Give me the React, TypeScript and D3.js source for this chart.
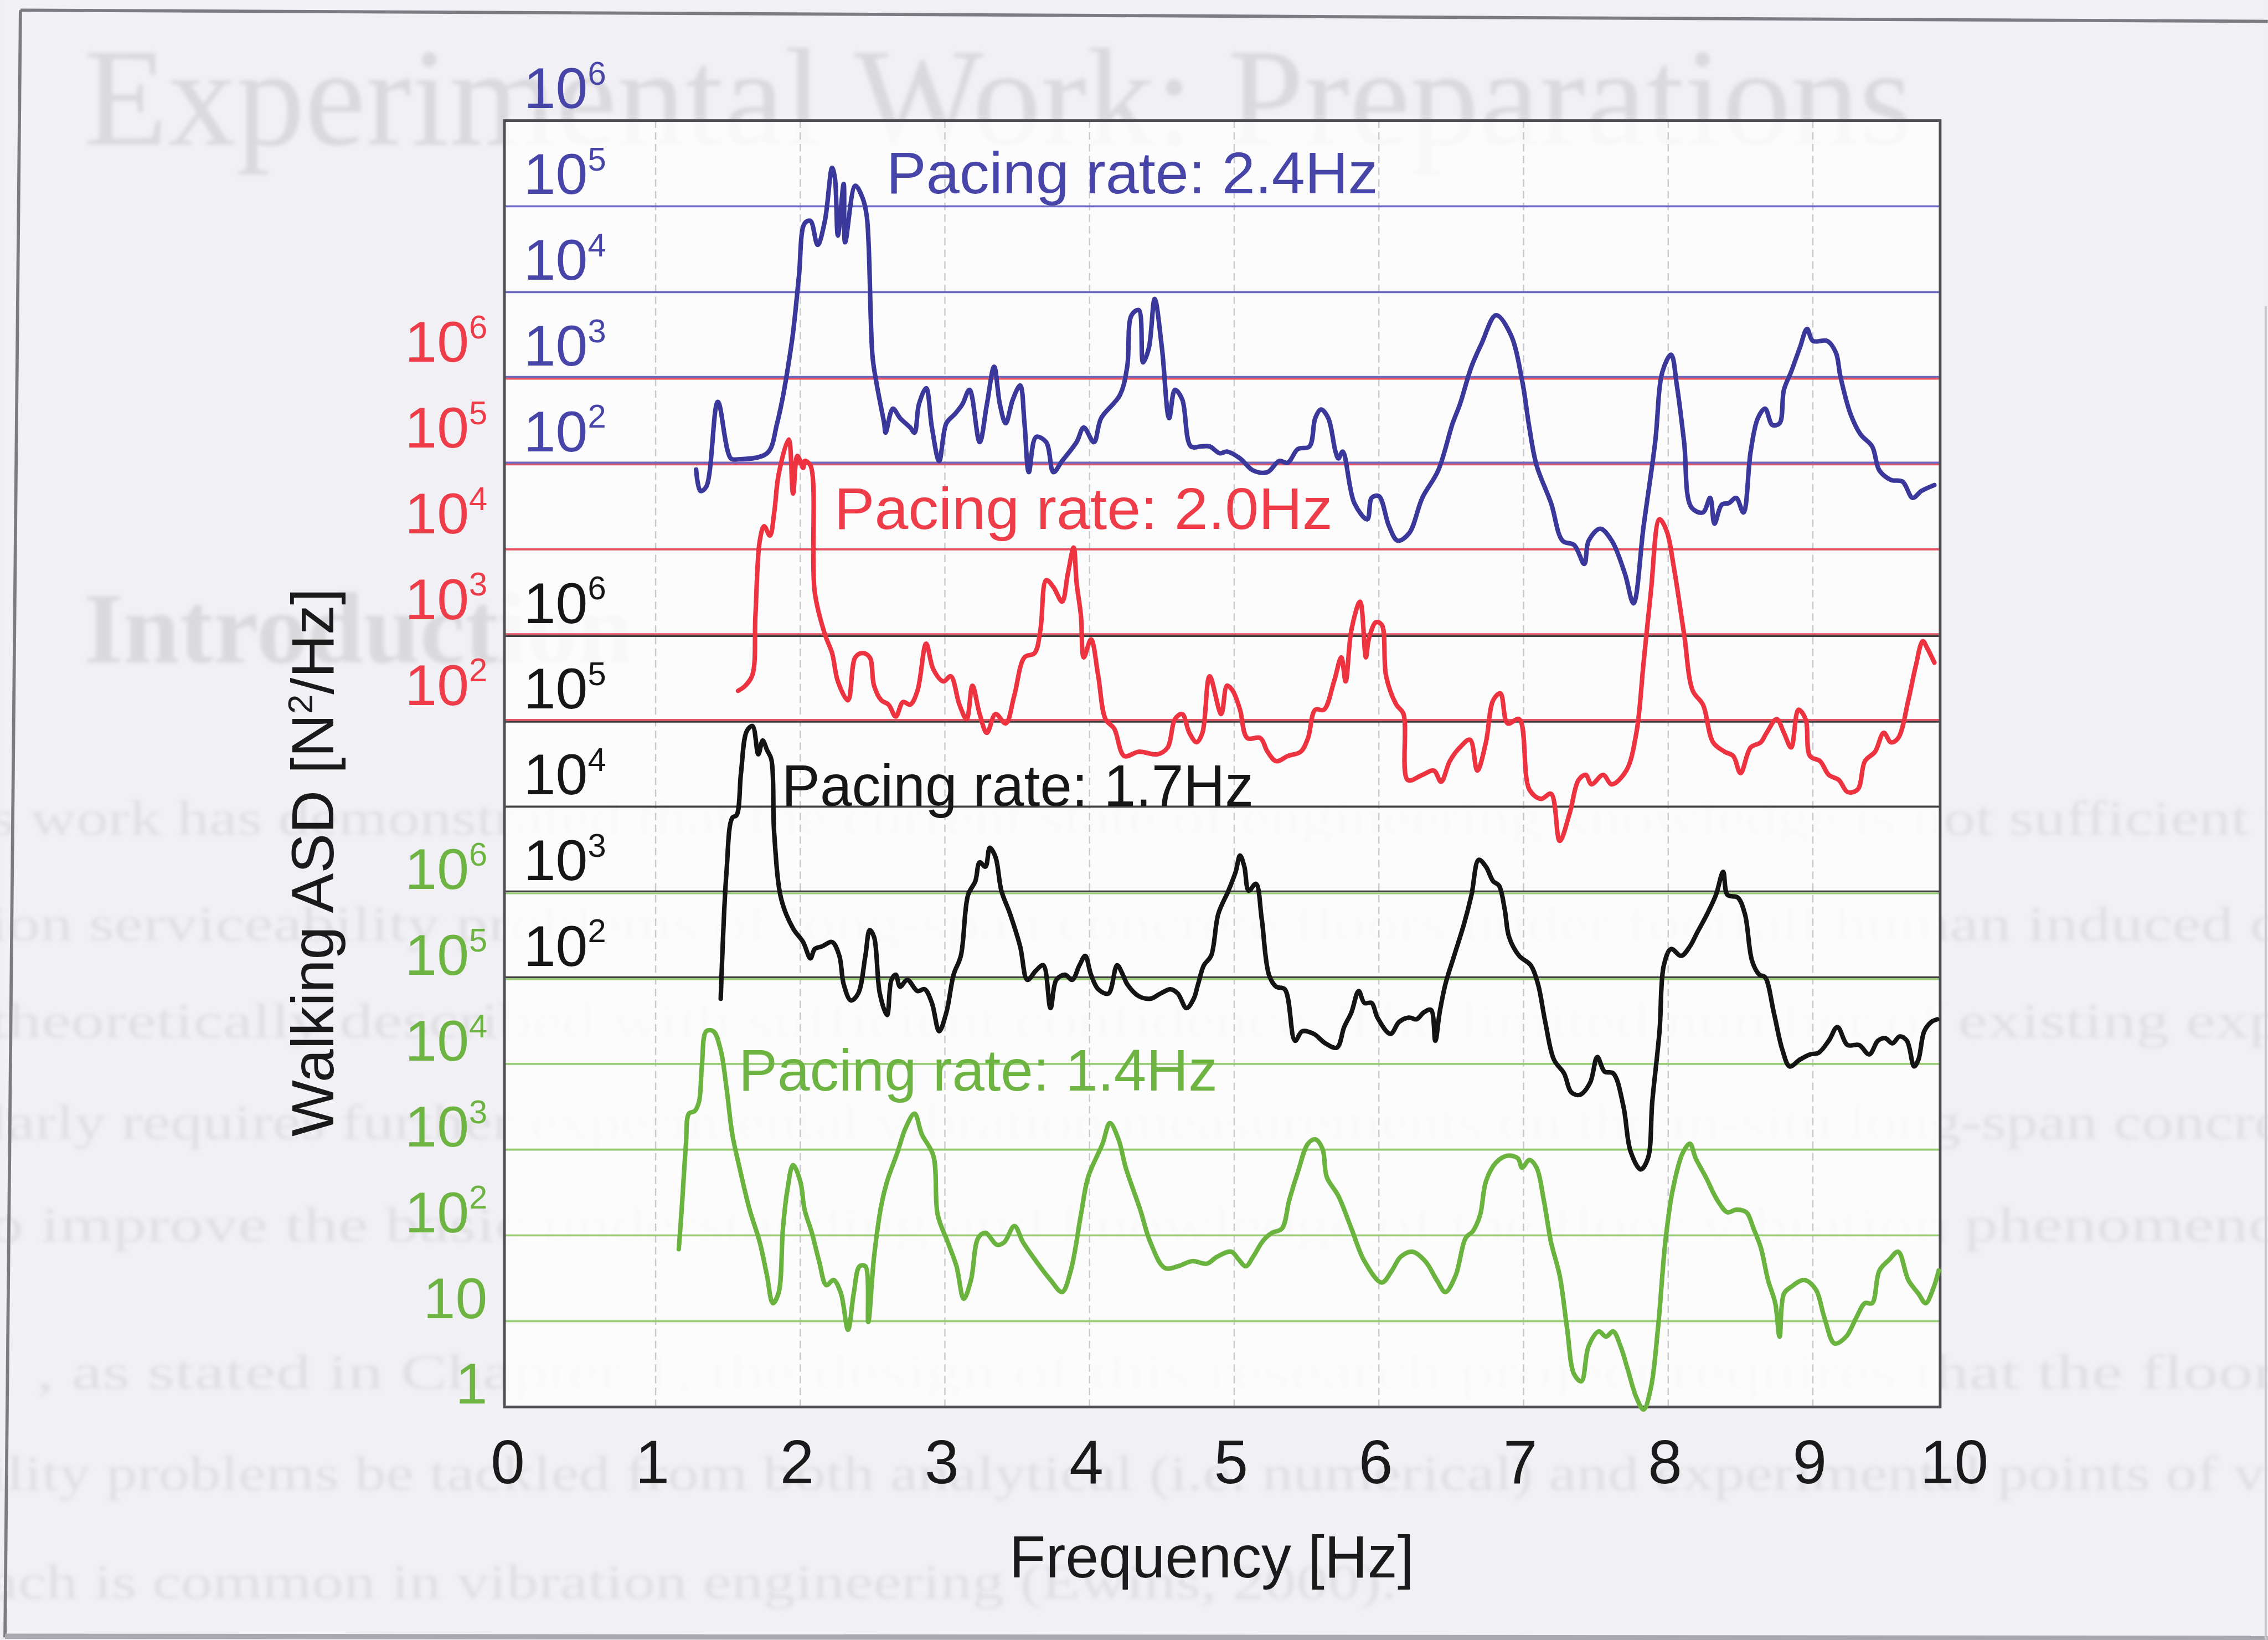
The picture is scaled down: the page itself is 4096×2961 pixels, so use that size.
import * as d3 from "d3";
import { useEffect } from "react";

// reference canvas, drawn through a viewBox so it scales to the window
const W = 4253;
const H = 3075;

// frequency ticks [Hz]
const freqTicks = [0, 1, 2, 3, 4, 5, 6, 7, 8, 9, 10];
const freqGrid = [1, 2, 3, 4, 5, 6, 7, 8, 9];

// exponents shown on each stacked log axis
const blueDecades = [2, 3, 4, 5, 6];
const redDecades = [2, 3, 4, 5, 6];
const blackDecades = [2, 3, 4, 5, 6];
const greenDecades = [0, 1, 2, 3, 4, 5, 6];

// [frequency Hz, log10 ASD]
const blueAsd: [number, number][] = [
  [1.28, 1.93], [1.31, 1.68], [1.35, 1.73], [1.43, 2.72], [1.52, 2.06], [1.57, 2.05], [1.77, 2.12],
  [1.84, 2.47], [1.94, 3.4], [1.99, 4.17], [2.03, 4.8], [2.07, 4.83], [2.12, 4.55], [2.17, 4.83],
  [2.22, 5.45], [2.24, 5.32], [2.26, 4.66], [2.3, 5.26], [2.31, 4.58], [2.38, 5.24], [2.43, 5.1],
  [2.46, 4.88], [2.5, 3.24], [2.53, 2.91], [2.58, 2.47], [2.59, 2.36], [2.64, 2.64], [2.69, 2.53],
  [2.76, 2.42], [2.79, 2.36], [2.82, 2.69], [2.87, 2.88], [2.91, 2.42], [2.96, 2.03], [3.01, 2.47],
  [3.07, 2.58], [3.12, 2.69], [3.17, 2.86], [3.24, 2.25], [3.29, 2.69], [3.34, 3.13], [3.38, 2.69],
  [3.42, 2.47], [3.47, 2.75], [3.52, 2.91], [3.55, 2.47], [3.58, 1.9], [3.63, 2.31], [3.7, 2.25],
  [3.75, 1.9], [3.81, 2.03], [3.91, 2.25], [3.96, 2.42], [4.03, 2.25], [4.08, 2.53], [4.21, 2.8],
  [4.26, 3.13], [4.29, 3.73], [4.34, 3.79], [4.37, 3.18], [4.41, 3.35], [4.45, 3.92], [4.5, 3.35],
  [4.55, 2.53], [4.59, 2.86], [4.64, 2.75], [4.7, 2.2], [4.77, 2.2], [4.83, 2.2], [4.9, 2.12],
  [4.95, 2.14], [5.04, 2.06], [5.13, 1.92], [5.23, 1.9], [5.31, 2.03], [5.37, 2.01], [5.44, 2.17],
  [5.52, 2.2], [5.56, 2.53], [5.6, 2.63], [5.65, 2.53], [5.7, 2.14], [5.72, 2.06], [5.75, 2.14],
  [5.83, 1.54], [5.92, 1.35], [5.95, 1.6], [6.0, 1.62], [6.07, 1.27], [6.13, 1.1], [6.21, 1.19],
  [6.3, 1.6], [6.41, 1.92], [6.51, 2.47], [6.56, 2.69], [6.64, 3.13], [6.71, 3.4], [6.81, 3.73],
  [6.91, 3.51], [6.99, 2.97], [7.04, 2.42], [7.09, 1.98], [7.19, 1.54], [7.27, 1.1], [7.35, 1.05],
  [7.42, 0.83], [7.45, 1.1], [7.53, 1.24], [7.61, 1.1], [7.7, 0.72], [7.76, 0.37], [7.83, 1.27],
  [7.91, 2.25], [7.96, 3.07], [8.02, 3.27], [8.06, 2.91], [8.11, 2.25], [8.16, 1.49], [8.24, 1.43],
  [8.29, 1.6], [8.32, 1.3], [8.37, 1.52], [8.42, 1.54], [8.47, 1.6], [8.52, 1.43], [8.57, 2.14],
  [8.62, 2.53], [8.67, 2.64], [8.72, 2.45], [8.77, 2.47], [8.8, 2.86], [8.85, 3.07], [8.91, 3.35],
  [8.96, 3.57], [9.0, 3.43], [9.1, 3.43], [9.16, 3.29], [9.19, 3.02], [9.26, 2.58], [9.33, 2.34],
  [9.41, 2.2], [9.46, 1.92], [9.54, 1.81], [9.62, 1.79], [9.69, 1.6], [9.75, 1.68], [9.84, 1.75],
];

const redAsd: [number, number][] = [
  [1.57, 2.35], [1.62, 2.41], [1.67, 2.54], [1.69, 3.23], [1.72, 4.1], [1.75, 4.27], [1.79, 4.16],
  [1.82, 4.43], [1.85, 4.87], [1.92, 5.28], [1.95, 4.65], [1.98, 5.09], [2.02, 4.95], [2.03, 5.03],
  [2.07, 4.98], [2.1, 3.5], [2.17, 3.01], [2.22, 2.79], [2.26, 2.46], [2.33, 2.24], [2.38, 2.74],
  [2.43, 2.79], [2.48, 2.74], [2.51, 2.41], [2.56, 2.24], [2.61, 2.19], [2.66, 2.05], [2.71, 2.22],
  [2.76, 2.19], [2.81, 2.35], [2.87, 2.9], [2.92, 2.6], [2.99, 2.46], [3.04, 2.52], [3.1, 2.19],
  [3.15, 2.02], [3.19, 2.41], [3.24, 2.08], [3.29, 1.86], [3.35, 2.08], [3.42, 1.97], [3.48, 2.3],
  [3.55, 2.74], [3.62, 2.79], [3.66, 3.06], [3.7, 3.64], [3.75, 3.56], [3.81, 3.39], [3.85, 3.72],
  [3.89, 4.02], [3.91, 3.61], [3.94, 3.23], [3.96, 2.74], [4.01, 2.95], [4.06, 2.52], [4.11, 2.02],
  [4.17, 1.91], [4.24, 1.59], [4.34, 1.64], [4.47, 1.61], [4.54, 1.69], [4.59, 2.02], [4.64, 2.08],
  [4.69, 1.86], [4.74, 1.75], [4.78, 1.86], [4.83, 2.52], [4.91, 2.08], [4.95, 2.41], [4.99, 2.35],
  [5.04, 2.13], [5.09, 1.8], [5.18, 1.8], [5.23, 1.64], [5.29, 1.53], [5.37, 1.59], [5.46, 1.64],
  [5.51, 1.8], [5.56, 2.13], [5.62, 2.13], [5.69, 2.46], [5.74, 2.74], [5.77, 2.46], [5.81, 3.06],
  [5.87, 3.39], [5.91, 2.74], [5.93, 2.95], [5.98, 3.15], [6.02, 3.12], [6.05, 2.52], [6.12, 2.19],
  [6.17, 2.08], [6.2, 1.31], [6.3, 1.37], [6.38, 1.42], [6.43, 1.29], [6.49, 1.53], [6.56, 1.69],
  [6.63, 1.78], [6.68, 1.42], [6.74, 1.75], [6.79, 2.24], [6.84, 2.32], [6.89, 1.97], [6.97, 2.02],
  [7.04, 1.2], [7.12, 1.09], [7.19, 1.15], [7.25, 0.6], [7.32, 0.93], [7.38, 1.31], [7.43, 1.37],
  [7.47, 1.26], [7.55, 1.37], [7.61, 1.26], [7.71, 1.42], [7.78, 1.86], [7.83, 2.68], [7.88, 3.5],
  [7.94, 4.35], [7.99, 4.21], [8.04, 3.78], [8.11, 3.01], [8.17, 2.35], [8.24, 2.19], [8.31, 1.75],
  [8.39, 1.64], [8.45, 1.59], [8.5, 1.39], [8.57, 1.69], [8.64, 1.75], [8.68, 1.86], [8.75, 2.02],
  [8.8, 1.86], [8.85, 1.69], [8.9, 2.13], [8.95, 2.02], [8.98, 1.59], [9.05, 1.53], [9.11, 1.37],
  [9.18, 1.31], [9.24, 1.17], [9.31, 1.2], [9.36, 1.53], [9.43, 1.64], [9.49, 1.86], [9.54, 1.75],
  [9.59, 1.8], [9.66, 2.24], [9.71, 2.63], [9.76, 2.93], [9.79, 2.85], [9.84, 2.68],
];

const blackAsd: [number, number][] = [
  [1.45, 1.76], [1.49, 3.24], [1.53, 3.87], [1.56, 3.9], [1.59, 4.39], [1.63, 4.88], [1.67, 4.94],
  [1.71, 4.61], [1.74, 4.77], [1.77, 4.66], [1.8, 4.55], [1.82, 3.68], [1.87, 2.91], [1.95, 2.58],
  [2.02, 2.42], [2.07, 2.23], [2.1, 2.34], [2.15, 2.37], [2.22, 2.42], [2.27, 2.26], [2.3, 1.93],
  [2.35, 1.74], [2.4, 1.82], [2.45, 2.26], [2.48, 2.56], [2.51, 2.48], [2.55, 1.82], [2.6, 1.57],
  [2.63, 1.98], [2.66, 2.04], [2.69, 1.9], [2.74, 1.98], [2.81, 1.85], [2.86, 1.87], [2.91, 1.71],
  [2.96, 1.38], [3.01, 1.6], [3.06, 2.04], [3.11, 2.26], [3.16, 2.97], [3.21, 3.13], [3.24, 3.35],
  [3.28, 3.3], [3.31, 3.52], [3.35, 3.41], [3.39, 3.02], [3.45, 2.75], [3.52, 2.37], [3.57, 1.98],
  [3.63, 2.09], [3.68, 2.15], [3.73, 1.65], [3.77, 1.98], [3.83, 2.04], [3.88, 1.98], [3.93, 2.15],
  [3.97, 2.26], [4.01, 2.04], [4.06, 1.87], [4.13, 1.82], [4.19, 2.15], [4.23, 2.04], [4.26, 1.93],
  [4.34, 1.79], [4.42, 1.76], [4.49, 1.82], [4.56, 1.87], [4.61, 1.82], [4.67, 1.65], [4.72, 1.76],
  [4.75, 1.93], [4.79, 2.15], [4.84, 2.26], [4.89, 2.75], [4.96, 3.02], [5.01, 3.24], [5.04, 3.43],
  [5.07, 3.3], [5.1, 3.02], [5.15, 3.1], [5.19, 2.69], [5.24, 2.04], [5.29, 1.9], [5.35, 1.87],
  [5.42, 1.27], [5.47, 1.38], [5.55, 1.35], [5.63, 1.24], [5.71, 1.19], [5.76, 1.43], [5.81, 1.6],
  [5.86, 1.85], [5.9, 1.71], [5.95, 1.71], [5.99, 1.54], [6.08, 1.35], [6.14, 1.49], [6.21, 1.54],
  [6.26, 1.52], [6.31, 1.6], [6.36, 1.63], [6.39, 1.27], [6.42, 1.6], [6.46, 1.93], [6.52, 2.26],
  [6.59, 2.64], [6.64, 2.97], [6.69, 3.38], [6.74, 3.3], [6.79, 3.13], [6.83, 3.08], [6.87, 2.8],
  [6.9, 2.48], [6.97, 2.26], [7.05, 2.15], [7.1, 1.93], [7.15, 1.49], [7.21, 1.05], [7.28, 0.89],
  [7.33, 0.67], [7.39, 0.64], [7.46, 0.78], [7.51, 1.08], [7.56, 0.91], [7.62, 0.89], [7.69, 0.51],
  [7.74, -0.02], [7.81, -0.23], [7.86, -0.1], [7.89, 0.56], [7.94, 1.38], [7.97, 2.15], [8.02, 2.34],
  [8.09, 2.26], [8.15, 2.37], [8.2, 2.53], [8.27, 2.75], [8.33, 2.97], [8.38, 3.24], [8.41, 2.97],
  [8.48, 2.94], [8.53, 2.75], [8.58, 2.2], [8.63, 2.04], [8.67, 2.01], [8.73, 1.6], [8.79, 1.16],
  [8.84, 0.97], [8.91, 1.05], [8.98, 1.11], [9.04, 1.13], [9.11, 1.27], [9.17, 1.43], [9.24, 1.22],
  [9.32, 1.22], [9.39, 1.11], [9.45, 1.27], [9.5, 1.3], [9.55, 1.24], [9.6, 1.32], [9.65, 1.27],
  [9.7, 0.97], [9.73, 1.05], [9.77, 1.38], [9.82, 1.49], [9.86, 1.52],
];

const greenAsd: [number, number][] = [
  [1.16, 1.84], [1.18, 2.3], [1.21, 3.07], [1.23, 3.42], [1.27, 3.45], [1.3, 3.56], [1.32, 3.98],
  [1.35, 4.38], [1.4, 4.38], [1.45, 4.16], [1.49, 3.72], [1.53, 3.18], [1.58, 2.79], [1.65, 2.3],
  [1.72, 1.92], [1.77, 1.53], [1.81, 1.21], [1.85, 1.33], [1.88, 2.08], [1.91, 2.52], [1.95, 2.82],
  [2.0, 2.63], [2.03, 2.3], [2.08, 2.03], [2.13, 1.7], [2.18, 1.42], [2.23, 1.48], [2.28, 1.33],
  [2.33, 0.9], [2.37, 1.33], [2.41, 1.64], [2.45, 1.64], [2.47, 0.99], [2.51, 1.75], [2.56, 2.35],
  [2.6, 2.63], [2.67, 2.96], [2.73, 3.26], [2.79, 3.42], [2.84, 3.18], [2.92, 2.93], [2.95, 2.24],
  [3.02, 1.92], [3.08, 1.64], [3.13, 1.26], [3.18, 1.48], [3.23, 1.97], [3.28, 2.03], [3.36, 1.89],
  [3.41, 1.92], [3.48, 2.11], [3.54, 1.92], [3.63, 1.7], [3.73, 1.48], [3.81, 1.34], [3.87, 1.59],
  [3.94, 2.24], [3.99, 2.68], [4.09, 3.07], [4.14, 3.31], [4.2, 3.12], [4.25, 2.79], [4.35, 2.3],
  [4.42, 1.92], [4.52, 1.62], [4.61, 1.64], [4.71, 1.7], [4.81, 1.67], [4.88, 1.75], [4.98, 1.81],
  [5.03, 1.72], [5.08, 1.64], [5.13, 1.75], [5.2, 1.94], [5.26, 2.03], [5.33, 2.08], [5.38, 2.41],
  [5.44, 2.74], [5.51, 3.07], [5.56, 3.12], [5.61, 3.01], [5.64, 2.68], [5.72, 2.46], [5.81, 2.08],
  [5.9, 1.7], [6.02, 1.45], [6.09, 1.59], [6.15, 1.75], [6.23, 1.81], [6.32, 1.7], [6.4, 1.48],
  [6.46, 1.34], [6.53, 1.53], [6.6, 1.97], [6.65, 2.05], [6.7, 2.24], [6.74, 2.63], [6.81, 2.85],
  [6.89, 2.93], [6.96, 2.9], [6.99, 2.79], [7.04, 2.88], [7.09, 2.79], [7.14, 2.41], [7.19, 1.92],
  [7.25, 1.53], [7.3, 0.93], [7.35, 0.38], [7.4, 0.3], [7.45, 0.71], [7.52, 0.88], [7.57, 0.82],
  [7.62, 0.88], [7.67, 0.71], [7.72, 0.44], [7.78, 0.11], [7.83, -0.03], [7.88, 0.22], [7.93, 0.93],
  [7.98, 1.92], [8.03, 2.52], [8.1, 2.96], [8.15, 3.07], [8.19, 2.9], [8.26, 2.68], [8.34, 2.41],
  [8.41, 2.27], [8.47, 2.3], [8.54, 2.27], [8.59, 2.08], [8.64, 1.86], [8.69, 1.48], [8.74, 1.21],
  [8.77, 0.82], [8.8, 1.32], [8.85, 1.4], [8.94, 1.48], [9.02, 1.37], [9.08, 1.04], [9.15, 0.74],
  [9.23, 0.82], [9.3, 1.04], [9.36, 1.21], [9.41, 1.21], [9.46, 1.59], [9.53, 1.72], [9.59, 1.81],
  [9.66, 1.48], [9.73, 1.32], [9.78, 1.21], [9.83, 1.37], [9.87, 1.59],
];

const seriesNames = ["Pacing rate: 2.4Hz", "Pacing rate: 2.0Hz", "Pacing rate: 1.7Hz", "Pacing rate: 1.4Hz"];

// faint text of the scanned page showing through
const pageTitle = "Experimental Work: Preparations";
const pageHeading = "Introduction";
const pageLines = [
  "s work has demonstrated that the current state of engineering knowledge is not sufficient t",
  "ion serviceability problems of long-span concrete floors under footfall human induced d",
  "theoretically described with sufficient confidence. The limited number of existing exp",
  "larly requires further experimental vibration measurements on the in-situ long-span concre",
  "o improve the basic understanding and knowledge of the floor vibration phenomeno",
  ", as stated in Chapter 1, the design of this research project requires that the floor v",
  "ility problems be tackled from both analytical (i.e. numerical) and experimental points of vi",
  "ach is common in vibration engineering (Ewins, 2000).",
];

const FONT = "'Liberation Sans', Arial, sans-serif";
const SERIF = "'Liberation Serif', 'Times New Roman', serif";

export default function App() {
  useEffect(() => {
    document.body.style.margin = "0";
    document.body.style.background = "#f1f0f4";
  }, []);

  const top = 226;
  const bottom = 2638;
  const x = d3.scaleLinear().domain([0, 10]).range([958, 3671]);
  const level = d3.scaleLinear().domain([0, 15]).range([bottom, top]);
  const frameL = x(-0.045);
  const frameR = x(9.88);

  const series = [
    { name: seriesNames[0], data: blueAsd, off: 9, color: "#3b389c", text: "#4845a8", grid: "#6d6ac6",
      decades: blueDecades, side: "in", label: [2.595, 14.15, 922] },
    { name: seriesNames[1], data: redAsd, off: 6, color: "#ee3340", text: "#ee3c48", grid: "#e65260",
      decades: redDecades, side: "out", label: [2.234, 10.24, 935] },
    { name: seriesNames[2], data: blackAsd, off: 3, color: "#141414", text: "#161616", grid: "#404040",
      decades: blackDecades, side: "in", label: [1.872, 7.01, 885] },
    { name: seriesNames[3], data: greenAsd, off: 0, color: "#6ab33e", text: "#6db443", grid: "#97cc74",
      decades: greenDecades, side: "out", label: [1.574, 3.69, 898] },
  ];

  const yFor = (off: number) =>
    d3.scaleLog().domain([10 ** -off, 10 ** (15 - off)]).range([bottom, top]);

  // gridline levels used by more than one series
  const used = new Map<number, number>();
  series.forEach((s) =>
    s.decades.forEach((e) => {
      const L = e + s.off;
      if (L > 0 && L < 15) used.set(L, (used.get(L) || 0) + 1);
    })
  );

  return (
    <svg
      width={4096}
      height={2961}
      viewBox={`0 0 ${W} ${H}`}
      style={{ display: "block", position: "absolute", left: 0, top: 0 }}
    >
      <defs>
        <filter id="scanBlur" x="-5%" y="-20%" width="110%" height="140%">
          <feGaussianBlur stdDeviation="4" />
        </filter>
      </defs>
      <rect x={0} y={0} width={W} height={H} fill="#f1f0f4" />

      {/* scanned page behind the chart */}
      <g filter="url(#scanBlur)">
        <text x={157} y={271} fontFamily={SERIF} fontSize={262} textLength={3430} lengthAdjust="spacingAndGlyphs" fill="#dad9de">
          {pageTitle}
        </text>
        <text x={157} y={1242} fontFamily={SERIF} fontWeight="bold" fontSize={190} fill="#dad9de">
          {pageHeading}
        </text>
        {pageLines.map((t, i) => {
          const ys = [1565, 1763, 1945, 2135, 2327, 2604, 2794, 2997];
          const last = i === pageLines.length - 1;
          return (
            <text
              key={i}
              x={i === 5 ? 68 : -20}
              y={ys[i]}
              fontFamily={SERIF}
              fontSize={92}
              textLength={last ? 2640 : 4300}
              lengthAdjust="spacingAndGlyphs"
              fill="#e0dfe4"
            >
              {t}
            </text>
          );
        })}
      </g>

      {/* page frame */}
      <g stroke="#7c7b82" strokeWidth={6} fill="none">
        <line x1={38} y1={19} x2={W} y2={40} />
        <line x1={38} y1={19} x2={9} y2={3070} />
        <line x1={9} y1={3068} x2={W} y2={3072} stroke="#a9a8ae" strokeWidth={10} />
        <line x1={4249} y1={574} x2={4249} y2={H} stroke="#c8c7cc" strokeWidth={4} />
      </g>

      {/* plot background */}
      <rect x={frameL} y={top} width={frameR - frameL} height={bottom - top} fill="#ffffff" opacity={0.8} />

      {/* vertical dashed gridlines */}
      {freqGrid.map((f) => (
        <line
          key={f}
          x1={x(f)}
          x2={x(f)}
          y1={top}
          y2={bottom}
          stroke="#c8c8ce"
          strokeWidth={2.5}
          strokeDasharray="14 8"
        />
      ))}

      {/* horizontal decade lines, one colour per stacked axis */}
      {series.map((s, si) =>
        s.decades
          .filter((e) => e + s.off > 0 && e + s.off < 15)
          .map((e) => {
            const L = e + s.off;
            const shared = (used.get(L) || 0) > 1;
            // upper series sits just above the shared line, lower one just below
            const upper = series.some((o) => o.off < s.off && o.decades.includes(L - o.off));
            const dy = shared ? (upper ? -1.8 : 1.8) : 0;
            return (
              <line
                key={`${si}-${e}`}
                x1={frameL}
                x2={frameR}
                y1={level(L) + dy}
                y2={level(L) + dy}
                stroke={s.grid}
                strokeWidth={shared ? 3.4 : 3.8}
              />
            );
          })
      )}

      {/* plot frame */}
      <rect x={frameL} y={top} width={frameR - frameL} height={bottom - top} fill="none" stroke="#4e4e53" strokeWidth={5} />

      {/* decade labels */}
      {series.map((s, si) => {
        const inside = s.side === "in";
        return s.decades.map((e) => {
          const L = e + s.off;
          const base = e === 0 ? "1" : "10";
          const dy = inside ? -23 : s.off === 0 ? -6 : -30;
          return (
            <text
              key={`l${si}-${e}`}
              x={inside ? frameL + 36 : frameL - 32}
              y={level(L) + dy}
              textAnchor={inside ? "start" : "end"}
              fontFamily={FONT}
              fontSize={108}
              fill={s.text}
            >
              {base}
              {e > 1 && (
                <tspan dy={-44} fontSize={62}>
                  {e}
                </tspan>
              )}
            </text>
          );
        });
      })}

      {/* spectra */}
      {series.map((s, si) => {
        const y = yFor(s.off);
        const line = d3
          .line<[number, number]>()
          .x((d) => x(d[0]))
          .y((d) => y(10 ** d[1]))
          .curve(d3.curveCatmullRom.alpha(0.5));
        return (
          <path
            key={`c${si}`}
            d={line(s.data) || ""}
            fill="none"
            stroke={s.color}
            strokeWidth={8.5}
            strokeLinejoin="round"
            strokeLinecap="round"
          />
        );
      })}

      {/* series names */}
      {series.map((s, si) => (
        <text
          key={`n${si}`}
          x={x(s.label[0])}
          y={level(s.label[1])}
          fontFamily={FONT}
          fontSize={110}
          fill={s.text}
          textLength={s.label[2]}
          lengthAdjust="spacingAndGlyphs"
        >
          {s.name}
        </text>
      ))}

      {/* frequency tick labels */}
      {freqTicks.map((f) => (
        <text key={`t${f}`} x={x(f) - 6} y={2781} textAnchor="middle" fontFamily={FONT} fontSize={115} fill="#1a1a1a">
          {f}
        </text>
      ))}

      {/* axis titles */}
      <text x={2272} y={2958} textAnchor="middle" fontFamily={FONT} fontSize={112} fill="#1a1a1a">
        Frequency [Hz]
      </text>
      <text
        transform="translate(625,1617) rotate(-90)"
        textAnchor="middle"
        fontFamily={FONT}
        fontSize={112}
        fill="#1a1a1a"
      >
        Walking ASD [N<tspan dy={-40} fontSize={66}>2</tspan>
        <tspan dy={40}>/Hz]</tspan>
      </text>
    </svg>
  );
}
